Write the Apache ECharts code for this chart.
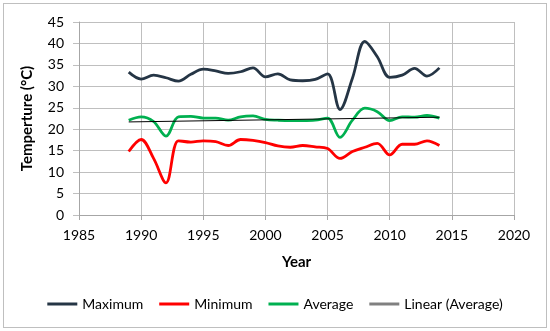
<!DOCTYPE html>
<html>
<head>
<meta charset="utf-8">
<script src="https://cdn.jsdelivr.net/npm/echarts@6/dist/echarts.min.js"></script>
<style>
html,body{margin:0;padding:0;background:#fff;}
#wrap{position:absolute;left:3px;top:3px;width:544px;height:325px;border:1px solid #bfbfbf;box-sizing:border-box;}
#c{position:absolute;left:0;top:0;width:550px;height:331px;}
</style>
</head>
<body>
<div id="wrap"></div>
<div id="c"></div>
<script>
const years = [1989,1990,1991,1992,1993,1994,1995,1996,1997,1998,1999,2000,2001,2002,2003,2004,2005,2006,2007,2008,2009,2010,2011,2012,2013,2014];
const maximum = [33.3,31.7,32.6,32.0,31.2,32.8,34.0,33.6,33.0,33.4,34.3,32.2,32.9,31.5,31.3,31.6,32.9,24.6,31.9,40.5,36.9,32.1,32.6,34.2,32.4,34.3];
const minimum = [14.8,17.6,13.2,7.5,17.3,17.0,17.3,17.1,16.2,17.6,17.4,16.9,16.1,15.8,16.2,15.9,15.5,13.2,14.8,15.8,16.7,14.0,16.5,16.5,17.3,16.2];
const average = [22.1,22.9,21.8,18.4,22.9,23.0,22.6,22.6,22.1,22.9,23.1,22.3,22.1,22.0,22.0,22.1,22.6,18.1,22.1,24.9,24.1,22.0,22.9,22.8,23.2,22.6];
const trendYears = [1989,2014];
const trendValues = [21.7,22.8];
const xTicks = {min:1985,max:2020,interval:5};
const yTicks = {min:0,max:45,interval:5};

const pair = (xs, ys) => xs.map((x,i)=>[x, ys[i]]);
const FONT = 'Lato';
const chart = echarts.init(document.getElementById('c'), null, {renderer:'canvas'});
chart.setOption({
  animation:false,
  textStyle:{fontFamily:FONT},
  grid:{left:79,right:36,top:22,bottom:116,containLabel:false},
  xAxis:{
    type:'value', min:xTicks.min, max:xTicks.max, interval:xTicks.interval,
    name:'Year', nameLocation:'middle', nameGap:40,
    nameTextStyle:{fontFamily:FONT,fontSize:15,fontWeight:'bold',color:'#000'},
    axisLine:{show:true,lineStyle:{color:'#a6a6a6',width:1}},
    axisTick:{show:true,length:5,lineStyle:{color:'#a6a6a6'}},
    axisLabel:{color:'#000',fontSize:14,fontFamily:FONT,margin:13,formatter:v=>String(v)},
    splitLine:{show:true,lineStyle:{color:'#bfbfbf',width:1}}
  },
  yAxis:{
    type:'value', min:yTicks.min, max:yTicks.max, interval:yTicks.interval,
    name:'Temperture (°C)', nameLocation:'middle', nameGap:44, nameRotate:90,
    nameTextStyle:{fontFamily:FONT,fontSize:15,fontWeight:'bold',color:'#000'},
    axisLine:{show:true,lineStyle:{color:'#a6a6a6',width:1}},
    axisTick:{show:true,length:6,lineStyle:{color:'#bfbfbf'}},
    axisLabel:{color:'#000',fontSize:14,fontFamily:FONT,margin:15},
    splitLine:{show:true,lineStyle:{color:'#bfbfbf',width:1}}
  },
  legend:{
    bottom:15, left:'center', itemWidth:30, itemHeight:3, itemGap:16,
    textStyle:{fontFamily:FONT,fontSize:14,color:'#000'},
    data:[
      {name:'Maximum',icon:'rect',itemStyle:{color:'#253545'}},
      {name:'Minimum',icon:'rect',itemStyle:{color:'#ff0000'}},
      {name:'Average',icon:'rect',itemStyle:{color:'#00b050'}},
      {name:'Linear (Average)',icon:'rect',itemStyle:{color:'#808080'}}
    ]
  },
  series:[
    {name:'Maximum',type:'line',data:pair(years,maximum),smooth:0.35,symbol:'none',lineStyle:{color:'#253545',width:2.8},itemStyle:{color:'#253545'}},
    {name:'Minimum',type:'line',data:pair(years,minimum),smooth:0.35,symbol:'none',lineStyle:{color:'#ff0000',width:2.8},itemStyle:{color:'#ff0000'}},
    {name:'Average',type:'line',data:pair(years,average),smooth:0.35,symbol:'none',lineStyle:{color:'#00b050',width:2.8},itemStyle:{color:'#00b050'}},
    {name:'Linear (Average)',type:'line',data:pair(trendYears,trendValues),symbol:'none',lineStyle:{color:'#000',width:1},itemStyle:{color:'#808080'},z:5}
  ]
});
</script>
</body>
</html>
